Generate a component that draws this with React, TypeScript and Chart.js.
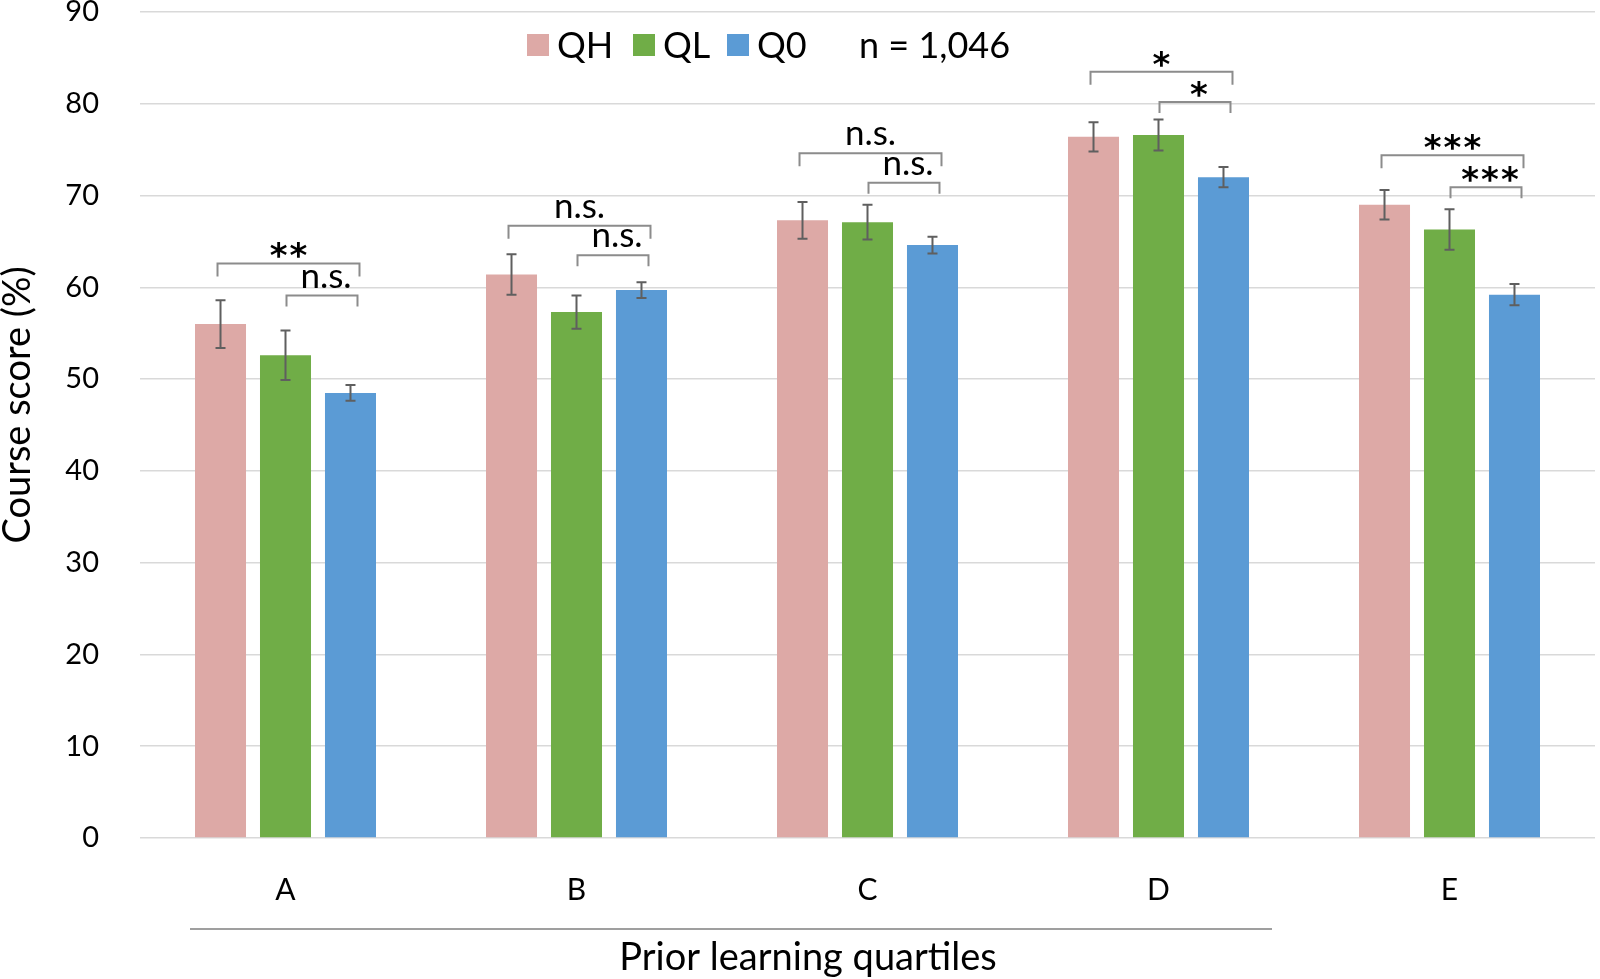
import React, { useEffect, useRef } from "react";
import { Chart, registerables } from "chart.js";

Chart.register(...registerables);

const categories = ["A", "B", "C", "D", "E"];
const seriesLabels = ["QH", "QL", "Q0"];
const qhValues = [56.0, 61.4, 67.3, 76.4, 69.0];
const qhErrors = [2.6, 2.2, 2.0, 1.6, 1.6];
const qlValues = [52.6, 57.3, 67.1, 76.6, 66.3];
const qlErrors = [2.7, 1.8, 1.9, 1.7, 2.2];
const q0Values = [48.5, 59.7, 64.6, 72.0, 59.2];
const q0Errors = [0.85, 0.85, 0.9, 1.1, 1.15];
// significance: QH vs Q0 (outer) and QL vs Q0 (inner)
const sigOuter = ["**", "n.s.", "n.s.", "*", "***"];
const sigInner = ["n.s.", "n.s.", "n.s.", "*", "***"];
const outerLevel = [62.6, 66.7, 74.6, 83.5, 74.4];
const innerLevel = [59.1, 63.5, 71.4, 80.2, 70.9];
const yTicks = [0, 10, 20, 30, 40, 50, 60, 70, 80, 90];
const sampleNote = "n = 1,046";
const xTitle = "Prior learning quartiles";
const yTitle = "Course score (%)";

const colors = ["#DDA9A6", "#70AD47", "#5B9BD5"];
const FONT = "Lato, 'Open Sans', sans-serif";

export default function App() {
  const ref = useRef<HTMLCanvasElement | null>(null);

  useEffect(() => {
    document.body.style.margin = "0";
    const canvas = ref.current!;
    const errors = [qhErrors, qlErrors, q0Errors];
    const values = [qhValues, qlValues, q0Values];

    const overlay = {
      id: "overlay",
      afterDatasetsDraw(chart: any) {
        const ctx = chart.ctx;
        const yScale = chart.scales.y;
        ctx.save();
        // error bars
        ctx.strokeStyle = "#5f5f5f";
        ctx.lineWidth = 2;
        for (let d = 0; d < 3; d++) {
          const meta = chart.getDatasetMeta(d);
          meta.data.forEach((el: any, j: number) => {
            const v = values[d][j];
            const e = errors[d][j];
            const yt = yScale.getPixelForValue(v + e);
            const yb = yScale.getPixelForValue(v - e);
            ctx.beginPath();
            ctx.moveTo(el.x, yt);
            ctx.lineTo(el.x, yb);
            ctx.moveTo(el.x - 5, yt);
            ctx.lineTo(el.x + 5, yt);
            ctx.moveTo(el.x - 5, yb);
            ctx.lineTo(el.x + 5, yb);
            ctx.stroke();
          });
        }
        // brackets
        const m0 = chart.getDatasetMeta(0).data;
        const m1 = chart.getDatasetMeta(1).data;
        const m2 = chart.getDatasetMeta(2).data;
        const drawLabel = (txt: string, x: number, yLine: number) => {
          ctx.fillStyle = "#000";
          ctx.textAlign = "center";
          ctx.textBaseline = "alphabetic";
          if (txt.includes("*")) {
            ctx.font = `bold 34px 'DejaVu Sans', sans-serif`;
            (ctx as any).letterSpacing = "2px";
            ctx.fillText(txt, x + 1, yLine + 4);
            (ctx as any).letterSpacing = "0px";
          } else {
            ctx.font = `35px ${FONT}`;
            ctx.fillText(txt, x, yLine - 8);
          }
        };
        ctx.strokeStyle = "#8c8c8c";
        ctx.lineWidth = 2;
        categories.forEach((_, j) => {
          const xr = m2[j].x + 9;
          const xl = m0[j].x - 3;
          const yo = yScale.getPixelForValue(outerLevel[j]);
          ctx.beginPath();
          ctx.moveTo(xl, yo + 13);
          ctx.lineTo(xl, yo);
          ctx.lineTo(xr, yo);
          ctx.lineTo(xr, yo + 13);
          ctx.stroke();
          const xil = m1[j].x + 1;
          const xir = xr - 2;
          const yi = yScale.getPixelForValue(innerLevel[j]);
          ctx.beginPath();
          ctx.moveTo(xil, yi + 11);
          ctx.lineTo(xil, yi);
          ctx.lineTo(xir, yi);
          ctx.lineTo(xir, yi + 11);
          ctx.stroke();
          drawLabel(sigOuter[j], (xl + xr) / 2, yo);
          drawLabel(sigInner[j], (xil + xir) / 2 + 4, yi);
        });
        ctx.restore();
      },
      afterDraw(chart: any) {
        const ctx = chart.ctx;
        ctx.save();
        // legend
        ctx.font = `36px ${FONT}`;
        ctx.textBaseline = "middle";
        ctx.textAlign = "left";
        const squareX = [527, 633, 727];
        const ly = 45;
        chart.data.datasets.forEach((ds: any, i: number) => {
          ctx.fillStyle = ds.backgroundColor;
          ctx.fillRect(squareX[i], ly - 11, 22, 22);
          ctx.fillStyle = "#000";
          ctx.fillText(ds.label, squareX[i] + 30, ly + 1);
        });
        ctx.fillText(sampleNote, 859, ly + 1);
        // axis titles
        ctx.textAlign = "center";
        ctx.font = `38px ${FONT}`;
        ctx.fillText(xTitle, 808, 958);
        ctx.save();
        ctx.translate(18, 405);
        ctx.rotate(-Math.PI / 2);
        ctx.font = `38px ${FONT}`;
        ctx.fillText(yTitle, 0, 0);
        ctx.restore();
        // line under category labels
        ctx.strokeStyle = "#7f7f7f";
        ctx.lineWidth = 1.5;
        ctx.beginPath();
        ctx.moveTo(190, 929);
        ctx.lineTo(1272, 929);
        ctx.stroke();
        ctx.restore();
      },
    };

    const chart = new Chart(canvas, {
      type: "bar",
      data: {
        labels: categories,
        datasets: [qhValues, qlValues, q0Values].map((vals, i) => ({
          label: seriesLabels[i],
          data: vals,
          backgroundColor: colors[i],
          borderWidth: 0,
          categoryPercentage: 0.67,
          barPercentage: 0.785,
        })),
      },
      options: {
        responsive: false,
        animation: false,
        layout: { padding: { top: 12, right: 5, left: 0, bottom: 0 } },
        plugins: {
          legend: { display: false },
          tooltip: { enabled: false },
        },
        scales: {
          x: {
            grid: { display: false, drawTicks: false },
            border: { display: false },
            ticks: { color: "#000", font: { family: FONT, size: 30 }, padding: 34 },
            afterFit: (s: any) => {
              s.height = 141;
              s.paddingTop = 0;
              s.paddingBottom = 0;
            },
          },
          y: {
            min: 0,
            max: 90,
            afterBuildTicks: (s: any) => {
              s.ticks = yTicks.map((v) => ({ value: v }));
            },
            grid: { color: "#d9d9d9", lineWidth: 1.5, drawTicks: false },
            border: { display: false },
            ticks: { color: "#000", font: { family: FONT, size: 29 }, padding: 41 },
            afterFit: (s: any) => {
              s.width = 140;
              s.paddingTop = 0;
              s.paddingBottom = 0;
            },
          },
        },
      },
      plugins: [overlay],
    });
    return () => chart.destroy();
  }, []);

  return (
    <div style={{ width: 1600, height: 979 }}>
      <canvas ref={ref} width={1600} height={979} />
    </div>
  );
}
